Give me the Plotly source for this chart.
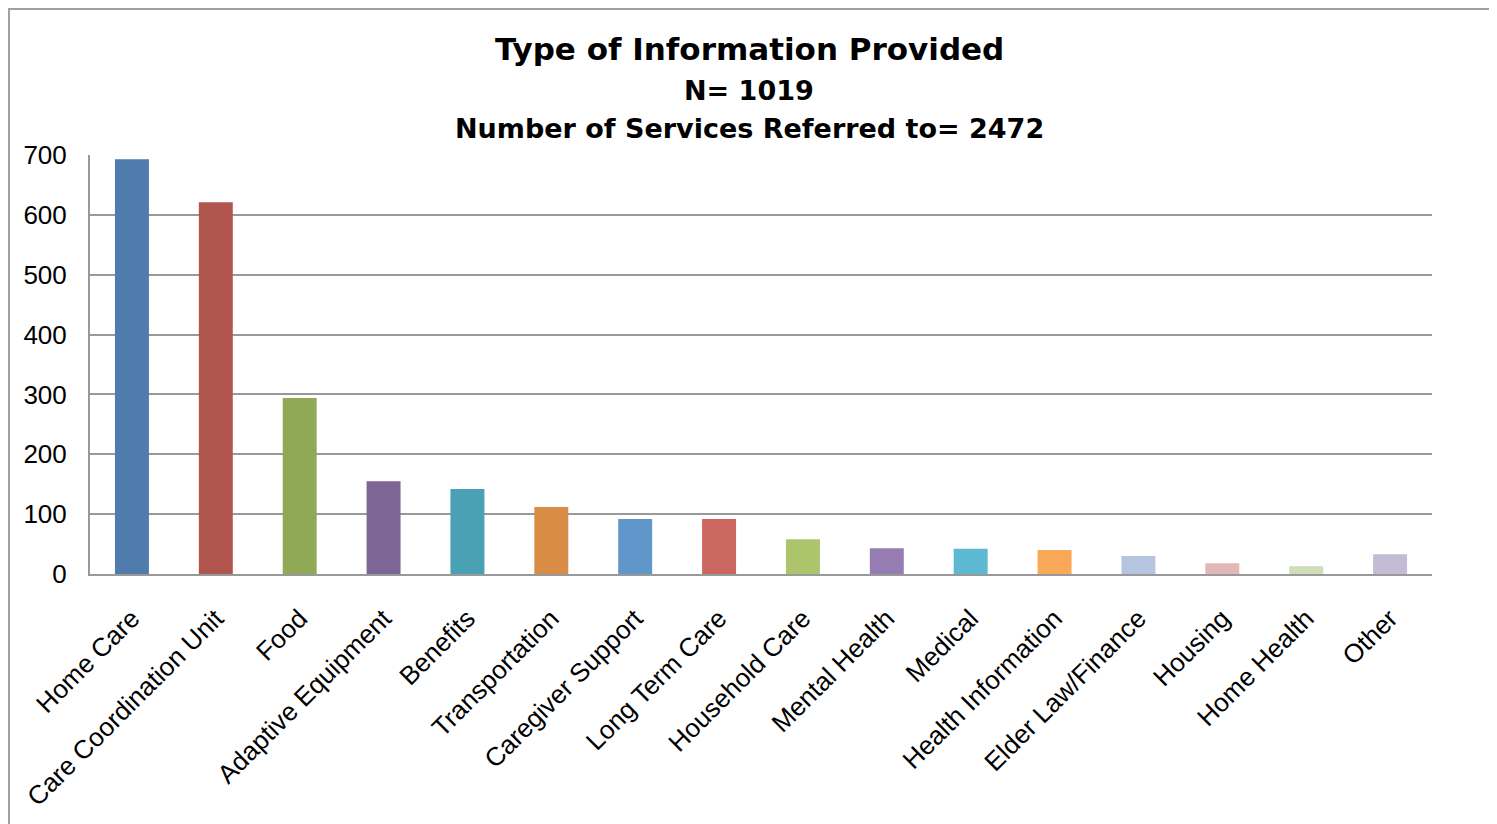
import plotly.graph_objects as go

categories = ["Home Care", "Care Coordination Unit", "Food", "Adaptive Equipment", "Benefits",
              "Transportation", "Caregiver Support", "Long Term Care", "Household Care",
              "Mental Health", "Medical", "Health Information", "Elder Law/Finance",
              "Housing", "Home Health", "Other"]
values = [693, 621, 294, 155, 142, 112, 92, 92, 58, 43, 42, 40, 30, 18, 13, 33]
colors = ["#4F7BAD", "#B0564E", "#8FA957", "#7D6596", "#4AA0B5", "#D88C46", "#6096C9",
          "#CC675F", "#ACC46C", "#957CB1", "#5CB9D1", "#F9A857", "#B5C5E0", "#E1B8B5",
          "#CFDDB8", "#C4BCD4"]
y_ticks = [0, 100, 200, 300, 400, 500, 600, 700]
title_lines = ["Type of Information Provided", "N= 1019", "Number of Services Referred to= 2472"]

# page body has an 8px margin
OFF = 8
W, H = 1497 - OFF, 824 - OFF
L, R, T, B = 90 - OFF, 1432 - OFF, 155 - OFF, 574 - OFF
PW, PH = R - L, B - T

def px(x):
    return (x - OFF - L) / PW

def py(y):
    return (B - (y - OFF)) / PH

fig = go.Figure(go.Bar(x=categories, y=values, marker=dict(color=colors, line=dict(width=0))))

font = "Liberation Sans, Arial, sans-serif"
tfont = "DejaVu Sans, Liberation Sans, Arial, sans-serif"
fig.update_layout(
    width=W, height=H,
    margin=dict(l=L, r=W - R, t=T, b=H - B, pad=0),
    paper_bgcolor="white", plot_bgcolor="white",
    bargap=0.595,
    showlegend=False,
    font=dict(family=font, color="black"),
    xaxis=dict(
        tickangle=-45, tickfont=dict(size=26, family=font, color="black"),
        showline=True, linecolor="#999999", linewidth=2, ticks="", showgrid=False,
        ticklabelstandoff=17,
    ),
    yaxis=dict(
        range=[0, 700], tickvals=y_ticks, tickfont=dict(size=26, family=font, color="black"),
        showgrid=True, gridcolor="#999999", gridwidth=2,
        showline=True, linecolor="#999999", linewidth=2, ticks="",
        ticklabelstandoff=16, zeroline=False,
    ),
)

for text, ycen, size in zip(title_lines, [49, 91, 128], [31, 27, 27]):
    fig.add_annotation(text="<b>" + text + "</b>", xref="paper", yref="paper",
                       x=px(749), y=py(ycen), xanchor="center", yanchor="middle",
                       showarrow=False, font=dict(size=size, family=tfont, color="black"))

fig.add_shape(type="rect", xref="paper", yref="paper",
              x0=px(9), x1=px(1492), y0=py(840), y1=py(9),
              line=dict(color="#A0A0A0", width=2), fillcolor="rgba(0,0,0,0)", layer="below")

fig.write_html("out.html")
